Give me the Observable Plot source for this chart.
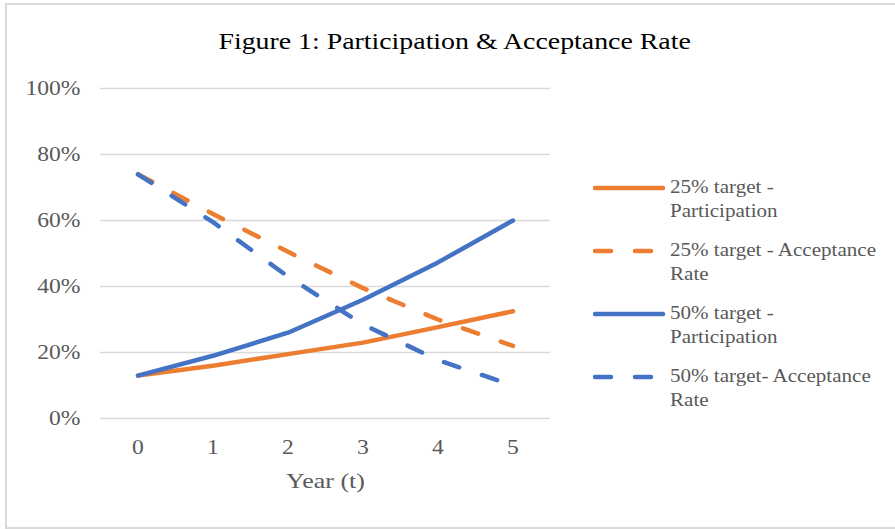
<!DOCTYPE html>
<html>
<head>
<meta charset="utf-8">
<script src="https://cdn.jsdelivr.net/npm/d3@7"></script>
<script src="https://cdn.jsdelivr.net/npm/@observablehq/plot@0.6"></script>
<style>
  html, body { margin: 0; padding: 0; background: #fff; }
  #wrap { position: relative; width: 895px; height: 529px; overflow: hidden; font-family: "Liberation Serif", "Times New Roman", serif; }
  #frame { position: absolute; left: 5px; top: 3px; width: 900px; height: 522px; border-left: 2px solid #d9d9d9; border-top: 2px solid #d9d9d9; border-bottom: 2px solid #d9d9d9; }
  #title { position: absolute; left: 0; top: 29px; width: 910px; text-align: center; line-height: 24px; }
  #title span { display: inline-block; font-size: 24px; color: #000; transform: scaleX(1.16); transform-origin: center; white-space: nowrap; }
  #chart { position: absolute; left: 0; top: 60px; }
  .leg { position: absolute; left: 593px; }
  .leg svg { position: absolute; left: 0; top: 8px; }
  .leg .txt { position: absolute; left: 77px; top: 0; font-size: 18px; line-height: 24px; color: #595959; white-space: pre; transform: scaleX(1.17); transform-origin: left top; }
</style>
</head>
<body>
<div id="wrap">
  <div id="frame"></div>
  <div id="title"></div>
  <div id="chart"></div>
</div>
<script>
const titleText = "Figure 1: Participation & Acceptance Rate";
const xLabel = "Year (t)";
const years = [0, 1, 2, 3, 4, 5];
const part25 = [13, 16, 19.5, 23, 27.7, 32.5];
const accept25 = [74, 62, 50.5, 39.5, 30, 22];
const part50 = [13, 19, 26, 36, 47.3, 60];
const accept50 = [74, 59.5, 43, 28.5, 17.7, 10];
const yTicks = [0, 20, 40, 60, 80, 100];
const seriesNames = ["25% target -\nParticipation", "25% target - Acceptance\nRate", "50% target -\nParticipation", "50% target- Acceptance\nRate"];
const seriesColors = ["#ED7D31", "#ED7D31", "#4472C4", "#4472C4"];
const seriesDash = [null, "16,24", null, "16,24"];
const seriesValues = [part25, accept25, part50, accept50];

const ts = document.createElement("span");
ts.textContent = titleText;
document.querySelector("#title").appendChild(ts);

const lineMarks = seriesValues.map((vals, i) =>
  Plot.line(years.map((t, j) => ({t, v: vals[j]})), {
    x: "t", y: "v",
    stroke: seriesColors[i],
    strokeWidth: 4.5,
    strokeDasharray: seriesDash[i] || undefined,
    strokeLinecap: "round",
    strokeLinejoin: "round"
  })
);

const chart = Plot.plot({
  width: 560,
  height: 440,
  marginLeft: 100,
  marginRight: 10,
  marginTop: 28,
  marginBottom: 82,
  style: {fontFamily: '"Liberation Serif", "Times New Roman", serif', fontSize: "20px", color: "#595959", background: "transparent", overflow: "visible"},
  x: {domain: [-0.5, 5.5], label: null},
  y: {domain: [0, 100], label: null},
  marks: [
    Plot.gridY(yTicks, {stroke: "#d9d9d9", strokeOpacity: 1, strokeWidth: 1.5}),
    Plot.axisY(yTicks, {tickSize: 0, tickPadding: 20, tickFormat: d => d + "%", label: null, fill: "#595959"}),
    Plot.axisX(years, {tickSize: 0, tickPadding: 21, tickFormat: d => String(d), label: null, fill: "#595959"}),
    Plot.text([xLabel], {frameAnchor: "bottom", dy: 69, fontSize: 22, fill: "#595959", text: d => d}),
    ...lineMarks
  ]
});
document.querySelector("#chart").appendChild(chart);

// widen glyphs horizontally to match reference rendering (scale about each text's anchor x)
d3.select(chart).selectAll("text").each(function() {
  let x = parseFloat(this.getAttribute("x"));
  if (!isFinite(x)) x = 0;
  const tr = this.getAttribute("transform") || "";
  this.setAttribute("transform", `${tr} translate(${x},0) scale(1.18,1) translate(${-x},0)`);
});

// legend
const legTops = [175, 238, 301, 364];
seriesNames.forEach((name, i) => {
  const item = document.createElement("div");
  item.className = "leg";
  item.style.top = legTops[i] + "px";
  const s = d3.create("svg").attr("width", 74).attr("height", 10);
  s.append("line").attr("x1", 2).attr("x2", 70).attr("y1", 5).attr("y2", 5)
    .attr("stroke", seriesColors[i]).attr("stroke-width", 4.5)
    .attr("stroke-linecap", "round")
    .attr("stroke-dasharray", seriesDash[i] || null);
  item.appendChild(s.node());
  const t = document.createElement("div");
  t.className = "txt";
  t.textContent = name;
  item.appendChild(t);
  document.querySelector("#wrap").appendChild(item);
});
</script>
</body>
</html>
